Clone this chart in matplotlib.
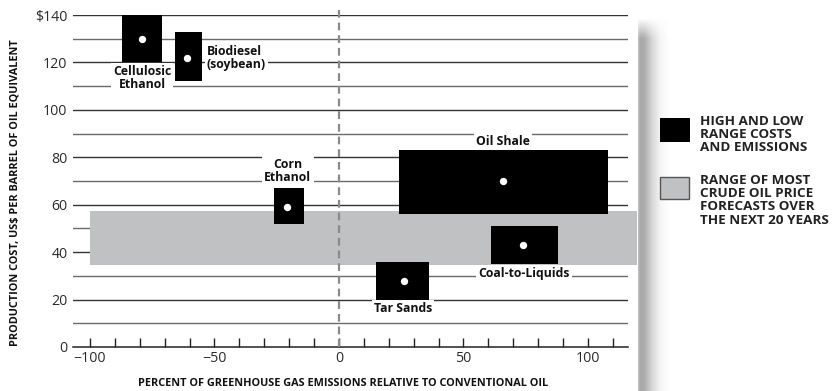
import numpy as np
import matplotlib
matplotlib.use("Agg")
import matplotlib.pyplot as plt
from matplotlib.patches import Rectangle

plt.rcParams['font.family'] = ['Open Sans', 'DejaVu Sans']

# Fuel ranges: emissions (% vs conventional oil) and cost (US$ per barrel)
fuels = ["Cellulosic\nEthanol", "Biodiesel\n(soybean)", "Corn\nEthanol",
         "Oil Shale", "Coal-to-Liquids", "Tar Sands"]
emis_low = [-87, -66, -26, 24, 61, 15]
emis_high = [-71, -55, -14, 108, 88, 36]
cost_low = [120, 112, 52, 56, 35, 20]
cost_high = [140, 133, 67, 83, 51, 36]
emis_mid = [-79, -61, -21, 66, 74, 26]
cost_mid = [130, 122, 59, 70, 43, 28]

# Label anchor points (data coords) and alignment
label_x = [-79, -53, -20.5, 66, 74.3, 25.7]
label_y = [113.3, 122, 74.3, 86.8, 31, 16.2]
label_ha = ["center", "left", "center", "center", "center", "center"]

# Crude oil price forecast range
band_low, band_high = 34.5, 57.5

y_ticks = [0, 20, 40, 60, 80, 100, 120, 140]
y_tick_labels = ["0", "20", "40", "60", "80", "100", "120", "$140"]
x_ticks = [-100, -50, 0, 50, 100]
x_minor = list(range(-100, 111, 10))

legend_labels = ["HIGH AND LOW\nRANGE COSTS\nAND EMISSIONS",
                 "RANGE OF MOST\nCRUDE OIL PRICE\nFORECASTS OVER\nTHE NEXT 20 YEARS"]

W, H = 833, 391
fig = plt.figure(figsize=(W / 100, H / 100), dpi=100)
fig.patch.set_facecolor("white")

ax = fig.add_axes([73 / W, (H - 347) / H, 555 / W, 332 / H])
ax.set_xlim(-106.8, 116.1)
ax.set_ylim(0, 140)
for s in ["top", "right", "left"]:
    ax.spines[s].set_visible(False)
ax.spines["bottom"].set_color("#222222")
ax.spines["bottom"].set_linewidth(1.1)

# Horizontal rules every 10
for v in range(10, 141, 10):
    ax.axhline(v, color="#333333" if v % 20 == 0 else "#6a6a6a",
               lw=1.0, zorder=1)

# Forecast band, running past the right edge
ax.add_patch(Rectangle((-100, band_low), 119.7 + 100, band_high - band_low,
                       facecolor="#c0c1c3", edgecolor="none", zorder=2,
                       clip_on=False))

# Zero-emissions reference line
ax.plot([0, 0], [0, 143], color="#8a8a8a", lw=1.6, ls=(0, (3.5, 2.2)),
        zorder=3, clip_on=False)

# Range boxes with midpoint dots
for xl, xh, yl, yh in zip(emis_low, emis_high, cost_low, cost_high):
    ax.add_patch(Rectangle((xl, yl), xh - xl, yh - yl, facecolor="black",
                           edgecolor="none", zorder=4, clip_on=False))
ax.scatter(emis_mid, cost_mid, s=28, color="white", zorder=5, linewidths=0)

for name, lx, ly, ha in zip(fuels, label_x, label_y, label_ha):
    ax.text(lx, ly, name, ha=ha, va="center", fontsize=8.8, fontweight="bold",
            color="#111111", linespacing=1.0, zorder=6,
            bbox=dict(facecolor="white", edgecolor="none", pad=1.5))

ax.set_yticks(y_ticks)
ax.set_yticklabels(y_tick_labels)
ax.tick_params(axis="y", length=0, pad=4, labelsize=10.2, labelcolor="#2a2a2a")
ax.set_xticks(x_ticks)
ax.set_xticklabels([f"{t}".replace("-", "\u2212") for t in x_ticks])
ax.set_xticks(x_minor, minor=True)
ax.tick_params(axis="x", which="both", direction="in", length=6.5,
               width=1.0, color="#222222", labelsize=10.2,
               labelcolor="#2a2a2a", pad=3)

fig.text(343 / W, 1 - 383 / H,
         "PERCENT OF GREENHOUSE GAS EMISSIONS RELATIVE TO CONVENTIONAL OIL",
         ha="center", va="center", fontsize=7.8, fontweight="bold",
         color="#111111")
fig.text(15 / W, 1 - 193 / H,
         "PRODUCTION COST, US$ PER BARREL OF OIL EQUIVALENT",
         ha="center", va="center", rotation=90, fontsize=7.8,
         fontweight="bold", color="#111111")

# Page-edge shadow strip
sh_x0, sh_w, sh_top = 638, 32, 18
prof = np.interp(np.arange(sh_w), [0, 2, 6, 14, 22, 31],
                 [0.74, 0.66, 0.68, 0.85, 0.96, 1.0])
rows = H - sh_top
vfade = np.interp(np.arange(rows), [0, 20, rows], [1.0, 0.0, 0.0])
img = prof[None, :] + (1 - prof[None, :]) * vfade[:, None]
sax = fig.add_axes([sh_x0 / W, 0, sh_w / W, rows / H])
sax.imshow(np.dstack([img, img, img]), aspect="auto", interpolation="bilinear")
sax.axis("off")

# Legend
leg = fig.add_axes([0, 0, 1, 1], facecolor="none")
leg.set_xlim(0, W)
leg.set_ylim(H, 0)
leg.axis("off")
leg.add_patch(Rectangle((660, 118), 30, 24, facecolor="black", edgecolor="none"))
leg.add_patch(Rectangle((660.5, 177), 29, 22, facecolor="#c0c1c3",
                        edgecolor="#555555", lw=1.0))
leg.text(700, 115, legend_labels[0], ha="left", va="top", fontsize=9.7,
         fontweight="bold", color="#222222", linespacing=1.02)
leg.text(700, 174, legend_labels[1], ha="left", va="top", fontsize=9.7,
         fontweight="bold", color="#222222", linespacing=1.02)

fig.savefig("out.png", dpi=100, facecolor="white")
